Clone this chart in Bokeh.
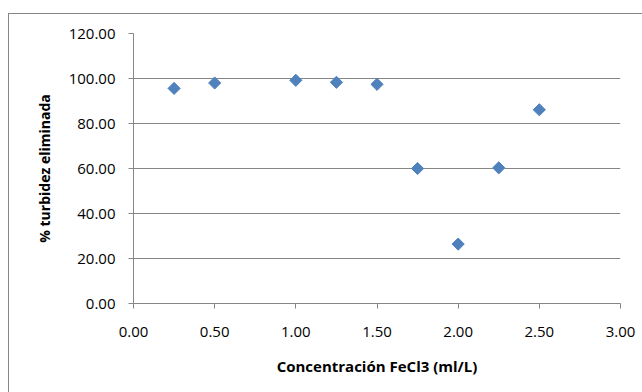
from bokeh.plotting import figure
from bokeh.models import FixedTicker, PrintfTickFormatter, ColumnDataSource
from bokeh.embed import file_html
from bokeh.resources import INLINE

# FeCl3 dose (ml/L) versus percentage of turbidity removed
concentracion = [0.25, 0.50, 1.00, 1.25, 1.50, 1.75, 2.00, 2.25, 2.50]
turbidez_eliminada = [95.6, 98.0, 99.2, 98.3, 97.4, 60.0, 26.4, 60.3, 86.1]

x_ticks = [0.0, 0.5, 1.0, 1.5, 2.0, 2.5, 3.0]
y_ticks = [0, 20, 40, 60, 80, 100, 120]

FONT = "Open Sans"
GRAY = "#868686"

source = ColumnDataSource(data=dict(x=concentracion, y=turbidez_eliminada))

p = figure(
    width=634, height=379,
    x_range=(0, 3), y_range=(0, 120),
    min_border_left=124, min_border_right=23,
    min_border_top=19, min_border_bottom=90,
    output_backend="svg", toolbar_location=None,
    background_fill_color="white", border_fill_color="white",
)
p.margin = (13, 0, 0, 8)
p.styles = {"border-top": f"1px solid {GRAY}", "border-left": f"1px solid {GRAY}"}
p.outline_line_color = None

p.scatter("x", "y", source=source, marker="square", angle=0.785398,
          size=8.6, fill_color="#4F81BD", line_color="#4F81BD")

p.xgrid.grid_line_color = None
p.ygrid.grid_line_color = GRAY
p.ygrid.grid_line_width = 1

for ax in (p.xaxis[0], p.yaxis[0]):
    ax.axis_line_color = GRAY
    ax.major_tick_line_color = GRAY
    ax.major_tick_in = 0
    ax.major_tick_out = 5
    ax.minor_tick_line_color = None
    ax.formatter = PrintfTickFormatter(format="%.2f")
    ax.major_label_text_font = FONT
    ax.major_label_text_font_size = "15px"
    ax.major_label_text_color = "#000000"
    ax.axis_label_text_font = FONT
    ax.axis_label_text_font_size = "14px"
    ax.axis_label_text_font_style = "bold"
    ax.axis_label_text_color = "#000000"

p.xaxis.axis_label_text_font_size = "15px"
p.xaxis.ticker = FixedTicker(ticks=x_ticks)
p.yaxis.ticker = FixedTicker(ticks=y_ticks)
p.xaxis.axis_label = "Concentración FeCl3 (ml/L)"
p.yaxis.axis_label = "% turbidez eliminada"
p.xaxis.major_label_standoff = 18
p.yaxis.major_label_standoff = 13
p.xaxis.axis_label_standoff = 16
p.yaxis.axis_label_standoff = 12

open("out.html", "w").write(file_html(p, INLINE))
